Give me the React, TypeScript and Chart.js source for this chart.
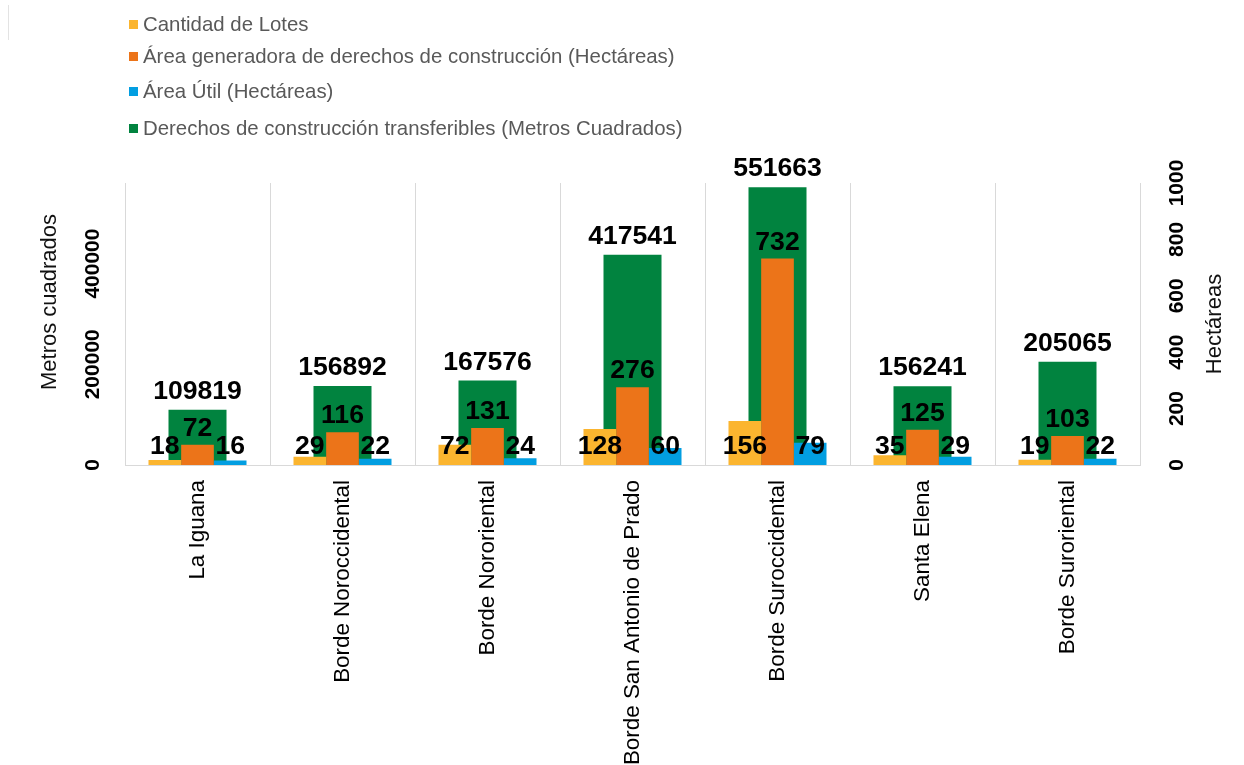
import React, { useEffect, useRef } from 'react';
import { Chart, registerables } from 'chart.js';

Chart.register(...registerables);

const categories = [
  'La Iguana',
  'Borde Noroccidental',
  'Borde Nororiental',
  'Borde San Antonio de Prado',
  'Borde Suroccidental',
  'Santa Elena',
  'Borde Suroriental',
];
const cantidadLotes = [18, 29, 72, 128, 156, 35, 19];
const areaGeneradora = [72, 116, 131, 276, 732, 125, 103];
const areaUtil = [16, 22, 24, 60, 79, 29, 22];
const derechosTransferibles = [109819, 156892, 167576, 417541, 551663, 156241, 205065];

const seriesNames = [
  'Cantidad de Lotes',
  'Área generadora de derechos de construcción (Hectáreas)',
  'Área Útil (Hectáreas)',
  'Derechos de construcción transferibles (Metros Cuadrados)',
];
const seriesColors = ['#FBB52F', '#EC7419', '#029EE1', '#01833F'];
const leftTicks = [0, 200000, 400000];
const rightTicks = [0, 200, 400, 600, 800, 1000];
const leftTitle = 'Metros cuadrados';
const rightTitle = 'Hectáreas';

const FONT = "'Liberation Sans', Arial, sans-serif";

const drawPlugin = {
  id: 'customDraw',
  afterDatasetsDraw(chart: any) {
    const ctx = chart.ctx;
    ctx.save();
    ctx.fillStyle = '#000';
    ctx.font = `bold 26.6px ${FONT}`;
    ctx.textAlign = 'center';
    ctx.textBaseline = 'alphabetic';
    chart.data.datasets.forEach((ds: any, di: number) => {
      const meta = chart.getDatasetMeta(di);
      meta.data.forEach((bar: any, i: number) => {
        const v = ds.data[i];
        let y: number;
        if (di === 0 || di === 2) y = bar.base - 11;
        else if (di === 1) y = bar.y - 9;
        else y = bar.y - 11;
        ctx.fillText(String(v), bar.x, y);
      });
    });
    ctx.restore();
  },
  afterDraw(chart: any) {
    const ctx = chart.ctx;
    const yl = chart.scales.y;
    const yr = chart.scales.y1;
    ctx.save();
    ctx.fillStyle = '#000';
    ctx.font = `bold 21px ${FONT}`;
    ctx.textAlign = 'center';
    ctx.textBaseline = 'middle';
    leftTicks.forEach((t) => {
      const py = yl.getPixelForValue(t);
      ctx.save();
      ctx.translate(93, py);
      ctx.rotate(-Math.PI / 2);
      ctx.fillText(String(t), 0, 0);
      ctx.restore();
    });
    rightTicks.forEach((t) => {
      const py = yr.getPixelForValue(t);
      ctx.save();
      ctx.translate(1177, py);
      ctx.rotate(-Math.PI / 2);
      ctx.fillText(String(t), 0, 0);
      ctx.restore();
    });
    ctx.font = `22px ${FONT}`;
    ctx.fillStyle = '#111';
    ctx.save();
    ctx.translate(50, 302);
    ctx.rotate(-Math.PI / 2);
    ctx.fillText(leftTitle, 0, 0);
    ctx.restore();
    ctx.save();
    ctx.translate(1215, (yr.top + yr.bottom) / 2);
    ctx.rotate(-Math.PI / 2);
    ctx.fillText(rightTitle, 0, 0);
    ctx.restore();
    ctx.restore();
  },
};

const legendTops = [24, 56, 91, 128];

export default function App() {
  const canvasRef = useRef<HTMLCanvasElement | null>(null);

  useEffect(() => {
    document.body.style.margin = '0';
    const canvas = canvasRef.current;
    if (!canvas) return;
    Chart.defaults.font.family = FONT;
    const chart = new Chart(canvas, {
      type: 'bar',
      data: {
        labels: categories,
        datasets: [
          {
            label: seriesNames[0],
            data: cantidadLotes,
            backgroundColor: seriesColors[0],
            yAxisID: 'y1',
            categoryPercentage: 0.676,
            barPercentage: 1,
          },
          {
            label: seriesNames[1],
            data: areaGeneradora,
            backgroundColor: seriesColors[1],
            yAxisID: 'y1',
            categoryPercentage: 0.676,
            barPercentage: 1,
          },
          {
            label: seriesNames[2],
            data: areaUtil,
            backgroundColor: seriesColors[2],
            yAxisID: 'y1',
            categoryPercentage: 0.676,
            barPercentage: 1,
          },
          {
            label: seriesNames[3],
            data: derechosTransferibles,
            backgroundColor: seriesColors[3],
            yAxisID: 'y',
            grouped: false,
            categoryPercentage: 0.4,
            barPercentage: 1,
          } as any,
        ],
      },
      options: {
        animation: false,
        responsive: false,
        maintainAspectRatio: false,
        layout: { padding: { top: 183, left: 0, right: 0, bottom: 0 } },
        plugins: {
          legend: { display: false },
          tooltip: { enabled: false },
        },
        scales: {
          x: {
            grid: { color: '#d9d9d9', drawTicks: false, offset: true },
            border: { color: '#d9d9d9' },
            ticks: {
              minRotation: 90,
              maxRotation: 90,
              autoSkip: false,
              padding: 15,
              color: '#000',
              font: { size: 22.4, family: FONT },
            },
            afterFit: (s: any) => {
              s.height = 300;
            },
          },
          y: {
            position: 'left',
            min: 0,
            max: 560000,
            ticks: { display: false, stepSize: 200000 },
            grid: { display: false },
            border: { display: false },
            afterFit: (s: any) => {
              s.width = 125;
            },
          },
          y1: {
            position: 'right',
            min: 0,
            max: 1000,
            ticks: { display: false, stepSize: 200 },
            grid: { display: false },
            border: { display: false },
            afterFit: (s: any) => {
              s.width = 104;
            },
          },
        },
      } as any,
      plugins: [drawPlugin],
    });
    return () => chart.destroy();
  }, []);

  return (
    <div style={{ position: 'relative', width: 1244, height: 765, overflow: 'hidden', background: '#fff' }}>
      <canvas ref={canvasRef} width={1244} height={765} style={{ position: 'absolute', left: 0, top: 0 }} />
      <div style={{ position: 'absolute', left: 8, top: 5, width: 1, height: 35, background: '#e3e3e3' }} />
      {seriesNames.map((name, i) => (
        <div
          key={name}
          style={{
            position: 'absolute',
            left: 129,
            top: legendTops[i] - 14,
            height: 28,
            display: 'flex',
            alignItems: 'center',
            fontFamily: FONT,
            fontSize: 20.4,
            color: '#595959',
            whiteSpace: 'nowrap',
          }}
        >
          <span style={{ display: 'inline-block', width: 9, height: 9, background: seriesColors[i], marginRight: 5 }} />
          <span>{name}</span>
        </div>
      ))}
    </div>
  );
}
